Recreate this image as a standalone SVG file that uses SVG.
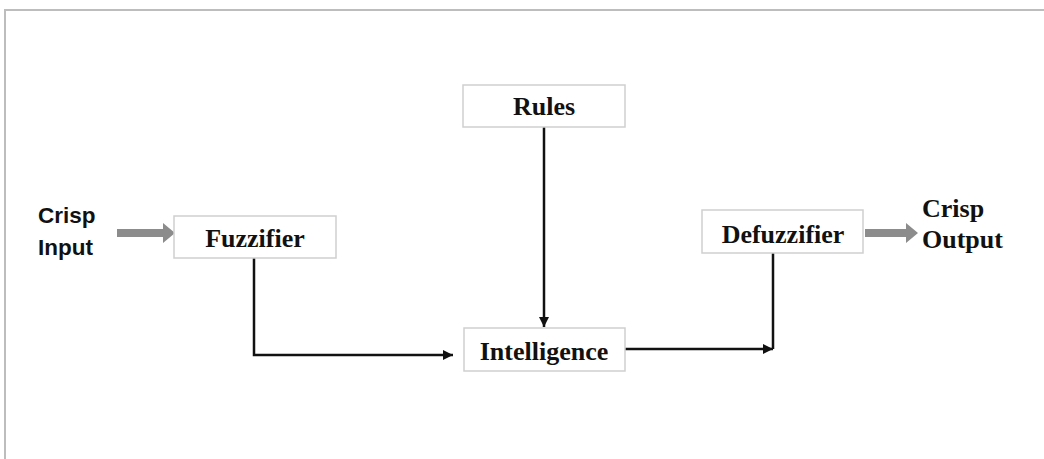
<svg xmlns="http://www.w3.org/2000/svg" width="1044" height="459" viewBox="0 0 1044 459">
<defs>
<style>
.box{fill:#fff;stroke:#cfcfcf;stroke-width:1.5}
.lbl{font-family:"Liberation Serif","Times New Roman",serif;font-weight:bold;font-size:26px;fill:#111;text-anchor:middle}
.sans{font-family:"Liberation Sans",Arial,sans-serif;font-weight:bold;font-size:22.5px;fill:#111}
.conn{fill:none;stroke:#111;stroke-width:2.5}
.gray{fill:#8c8c8c}
</style>
<marker id="ah" viewBox="0 0 10 10" refX="10" refY="5" markerWidth="12" markerHeight="10" markerUnits="userSpaceOnUse" orient="auto">
<path d="M0,0 L10,5 L0,10 Z" fill="#111"/>
</marker>
</defs>
<rect width="1044" height="459" fill="#fff"/>
<polyline points="5,459 5,10 1044,10" fill="none" stroke="#bdbdbd" stroke-width="2"/>
<g id="connectors">
<path class="conn" d="M544,127 V327" marker-end="url(#ah)"/>
<path class="conn" d="M254,258 V355 H453" marker-end="url(#ah)"/>
<path class="conn" d="M773,253 V349 M625,349 H773" marker-end="url(#ah)"/>
<path class="gray" d="M117,229 H163 V223 L175,233 L163,243 V237 H117 Z"/>
<path class="gray" d="M865,229 H906 V223 L918,233 L906,243 V237 H865 Z"/>
</g>
<g id="crisp-input">
<text class="sans" x="38" y="223">Crisp</text>
<text class="sans" x="38" y="255">Input</text>
</g>
<g id="rules">
<rect class="box" x="463" y="85" width="162" height="42"/>
<text class="lbl" x="544" y="115">Rules</text>
</g>
<g id="fuzzifier">
<rect class="box" x="174" y="216" width="162" height="42"/>
<text class="lbl" x="255" y="247">Fuzzifier</text>
</g>
<g id="intelligence">
<rect class="box" x="464" y="328" width="161" height="43"/>
<text class="lbl" x="544" y="360">Intelligence</text>
</g>
<g id="defuzzifier">
<rect class="box" x="702" y="210" width="161" height="43"/>
<text class="lbl" x="783" y="243">Defuzzifier</text>
</g>
<g id="crisp-output">
<text class="lbl" x="922" y="217" style="text-anchor:start">Crisp</text>
<text class="lbl" x="922" y="248" style="text-anchor:start">Output</text>
</g>
</svg>
